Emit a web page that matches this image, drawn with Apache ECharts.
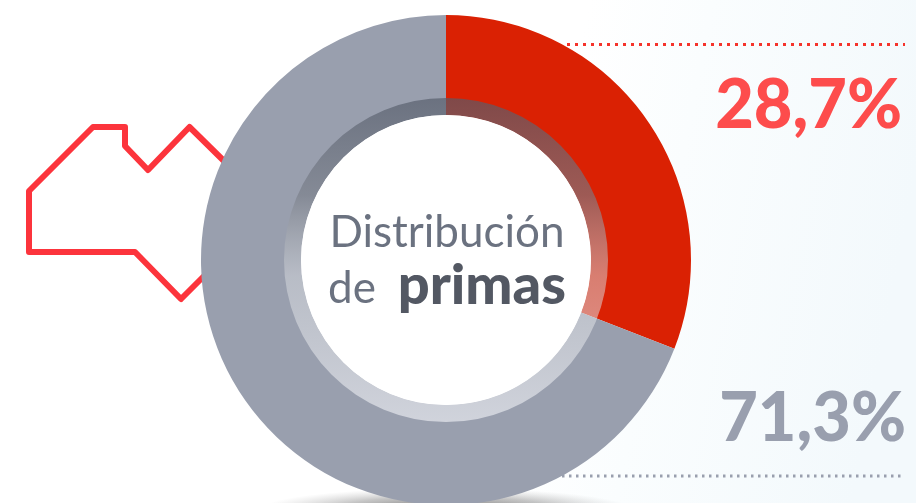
<!DOCTYPE html>
<html><head><meta charset="utf-8">
<style>html,body{margin:0;padding:0;background:#fff}#c{width:916px;height:503px}</style>
<script src="https://cdn.jsdelivr.net/npm/echarts@6/dist/echarts.min.js"></script>
</head><body><div id="c"></div>
<script>
const categories = ['Rojo', 'Gris'];
const drawnShares = [30.9, 69.1];
const percentLabels = ['28,7%', '71,3%'];
const colors = ['#da2103', '#999fae'];
const centerLine1 = 'Distribución';
const centerLine2a = 'de';
const centerLine2b = 'primas';

const G = echarts.graphic;
const chart = echarts.init(document.getElementById('c'), null, {renderer:'canvas'});
chart.setOption({
  animation:false,
  graphic:{elements:[
    {type:'rect',z:-10,shape:{x:0,y:0,width:916,height:503},style:{fill:new G.LinearGradient(0,0,1,0.35,[
      {offset:0,color:'#ffffff'},{offset:0.62,color:'#ffffff'},{offset:0.75,color:'#fafdfe'},{offset:1,color:'#f3f9fc'}])},silent:true},
    {type:'polyline',z:-5,shape:{points:[[225,162],[189.5,127],[148,170],[125,146],[125,127],[93,127],[29,191],[29,252],[135,252],[181,299],[225,255]]},
      style:{fill:'none',stroke:'#fc343c',lineWidth:6,lineJoin:'round'}},
    {type:'circle',z:-4,x:446,y:510,scaleX:8.5,shape:{cx:0,cy:0,r:22},style:{fill:new G.RadialGradient(0.5,0.5,0.5,[
      {offset:0,color:'rgba(60,60,60,0.8)'},{offset:0.6,color:'rgba(110,110,110,0.4)'},{offset:1,color:'rgba(160,160,160,0)'}])}},
    {type:'line',z:-3,shape:{x1:567,y1:44.5,x2:905,y2:44.5},style:{stroke:'#f5332b',lineWidth:3,lineDash:[3,5]}},
    {type:'line',z:-3,shape:{x1:562,y1:476,x2:904,y2:476},style:{stroke:'#999fae',lineWidth:3,lineDash:[2.5,4.5]}},
    {type:'ring',z:20,shape:{cx:446,cy:260,r:162,r0:145},style:{fill:new G.LinearGradient(0,0,0,1,[
      {offset:0,color:'rgba(85,92,106,0.68)'},{offset:0.3,color:'rgba(120,125,135,0.62)'},{offset:0.55,color:'rgba(215,218,222,0.5)'},{offset:1,color:'rgba(245,246,250,0.6)'}])},silent:true},
    {type:'circle',z:21,shape:{cx:446,cy:260,r:145},style:{fill:'#ffffff'},silent:true},
    {type:'text',z:30,x:447,y:233,style:{text:centerLine1,font:'44px Lato',fill:'#6b7280',align:'center',verticalAlign:'middle'}},
    {type:'text',z:30,x:328,y:289,style:{text:centerLine2a,font:'44px Lato',fill:'#6b7280',align:'left',verticalAlign:'middle'}},
    {type:'text',z:30,x:566,y:286,style:{text:centerLine2b,font:'900 56px Lato',fill:'#535863',align:'right',verticalAlign:'middle'}},
    {type:'text',z:30,x:902,y:106,scaleX:0.98,style:{text:percentLabels[0],font:'900 68px Lato',fill:'#fd4c4c',align:'right',verticalAlign:'middle'}},
    {type:'text',z:30,x:906,y:419,scaleX:0.98,style:{text:percentLabels[1],font:'900 68px Lato',fill:'#999fae',align:'right',verticalAlign:'middle'}}
  ]},
  series:[{type:'pie',silent:true,z:5,center:[446,260],radius:[145,245],startAngle:90,clockwise:true,
    label:{show:false},labelLine:{show:false},
    data:categories.map((n,i)=>({name:n,value:drawnShares[i],itemStyle:{color:colors[i]}}))}]
});
</script></body></html>
